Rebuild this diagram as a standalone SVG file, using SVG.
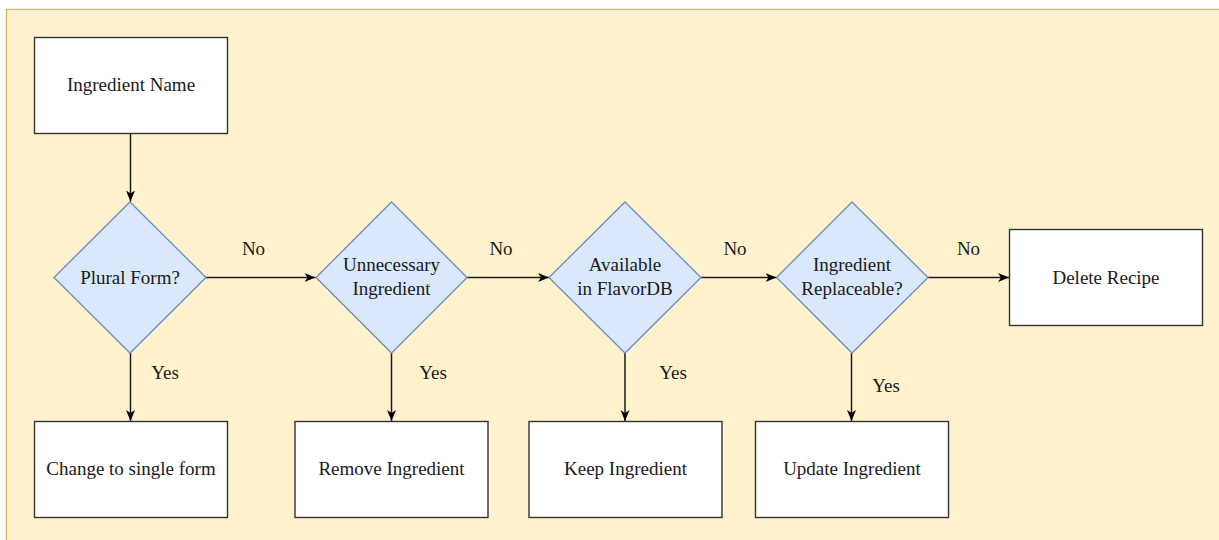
<svg xmlns="http://www.w3.org/2000/svg" width="1219" height="540" viewBox="0 0 1219 540">
  <style>
    .bg { fill: #fff2cc; stroke: #d6b656; stroke-width: 1.3; }
    .box { fill: #ffffff; stroke: #333333; stroke-width: 1.4; }
    .dec { fill: #dae8fc; stroke: #6c8ebf; stroke-width: 1.3; }
    .lbl { font-family: "Liberation Serif", "Times New Roman", serif; font-size: 19px; fill: #1a1a1a; text-anchor: middle; }
    .edge { fill: none; stroke: #1a1a1a; stroke-width: 1.5; marker-end: url(#arrow); }
  </style>
  <defs>
    <marker id="arrow" markerUnits="userSpaceOnUse" markerWidth="13" markerHeight="11" refX="11" refY="4.5" orient="auto">
      <path d="M0,0 L11,4.5 L0,9 L3,4.5 Z" fill="#000000"/>
    </marker>
  </defs>

  <!-- backdrop panel -->
  <rect class="bg" x="6.5" y="9.5" width="1240" height="560"/>

  <!-- connectors -->
  <g id="connectors">
    <path class="edge" d="M130.5,133.5 L130.5,201.5"/>
    <path class="edge" d="M206,277.5 L315.5,277.5"/>
    <path class="edge" d="M467,277.5 L549,277.5"/>
    <path class="edge" d="M701,277.5 L776.5,277.5"/>
    <path class="edge" d="M928,277.5 L1009,277.5"/>
    <path class="edge" d="M130.5,353 L130.5,421"/>
    <path class="edge" d="M391.5,353 L391.5,421"/>
    <path class="edge" d="M625,353 L625,421"/>
    <path class="edge" d="M851.5,353 L851.5,421"/>
    <text class="lbl" x="253.5" y="255">No</text>
    <text class="lbl" x="501" y="255">No</text>
    <text class="lbl" x="735" y="255">No</text>
    <text class="lbl" x="968.5" y="255">No</text>
    <text class="lbl" x="165" y="379">Yes</text>
    <text class="lbl" x="433" y="379">Yes</text>
    <text class="lbl" x="673" y="379">Yes</text>
    <text class="lbl" x="886" y="392">Yes</text>
  </g>

  <g id="ingredient-name">
    <rect class="box" x="34.5" y="37.5" width="193" height="96"/>
    <text class="lbl" x="131" y="91">Ingredient Name</text>
  </g>

  <g id="plural-form">
    <path class="dec" d="M130,202 L206,277.5 L130,353 L54,277.5 Z"/>
    <text class="lbl" x="130" y="283.5">Plural Form?</text>
  </g>

  <g id="unnecessary">
    <path class="dec" d="M391.5,202 L467,277.5 L391.5,353 L316,277.5 Z"/>
    <text class="lbl" x="391.5" y="271">Unnecessary</text>
    <text class="lbl" x="391.5" y="294.5">Ingredient</text>
  </g>

  <g id="available">
    <path class="dec" d="M625,202 L701,277.5 L625,353 L549,277.5 Z"/>
    <text class="lbl" x="625" y="271">Available</text>
    <text class="lbl" x="625" y="294.5">in FlavorDB</text>
  </g>

  <g id="replaceable">
    <path class="dec" d="M852,202 L928,277.5 L852,353 L776.5,277.5 Z"/>
    <text class="lbl" x="852" y="271">Ingredient</text>
    <text class="lbl" x="852" y="294.5">Replaceable?</text>
  </g>

  <g id="delete-recipe">
    <rect class="box" x="1009.5" y="229.5" width="193" height="96"/>
    <text class="lbl" x="1106" y="283.5">Delete Recipe</text>
  </g>

  <g id="change-single">
    <rect class="box" x="34.5" y="421.5" width="193" height="96"/>
    <text class="lbl" x="131" y="475">Change to single form</text>
  </g>

  <g id="remove-ingredient">
    <rect class="box" x="295" y="421.5" width="193" height="96"/>
    <text class="lbl" x="391.5" y="475">Remove Ingredient</text>
  </g>

  <g id="keep-ingredient">
    <rect class="box" x="529" y="421.5" width="193" height="96"/>
    <text class="lbl" x="625.5" y="475">Keep Ingredient</text>
  </g>

  <g id="update-ingredient">
    <rect class="box" x="755.5" y="421.5" width="193" height="96"/>
    <text class="lbl" x="852" y="475">Update Ingredient</text>
  </g>
</svg>
